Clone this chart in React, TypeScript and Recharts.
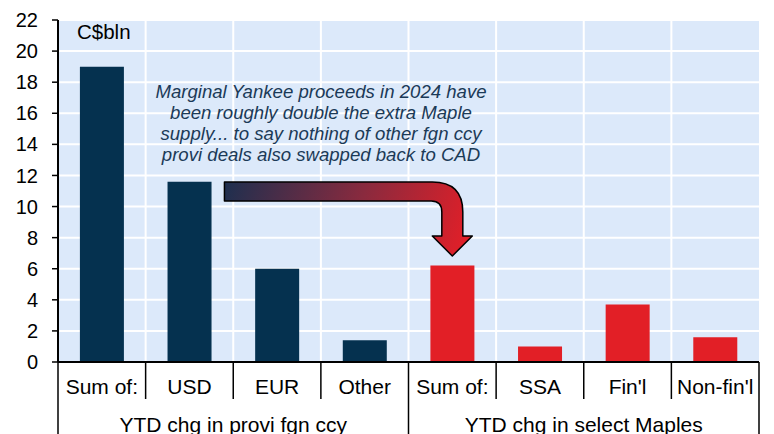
import React from "react";
import {
  BarChart,
  Bar,
  Cell,
  XAxis,
  YAxis,
  CartesianGrid,
  Customized,
} from "recharts";

const categories = ["Sum of:", "USD", "EUR", "Other", "Sum of:", "SSA", "Fin'l", "Non-fin'l"];
const values = [19.0, 11.6, 6.0, 1.4, 6.2, 1.0, 3.7, 1.6];
const groupLabels = ["YTD chg in provi fgn ccy", "YTD chg in select Maples"];
const yTicks = [0, 2, 4, 6, 8, 10, 12, 14, 16, 18, 20, 22];
const noteLines = [
  "Marginal Yankee proceeds in 2024 have",
  "been roughly double the extra Maple",
  "supply... to say nothing of other fgn ccy",
  "provi deals also swapped back to CAD",
];

const NAVY = "#05314f";
const RED = "#e21f26";

// layout
const W = 774;
const H = 434;
const M = { top: 20, right: 15, left: 0, bottom: 0 };
const Y_W = 58;
const X_H = 72;
const plotL = M.left + Y_W;
const plotR = W - M.right;
const catW = (plotR - plotL) / categories.length;

const data = categories.map((c, i) => ({
  id: `c${i}`,
  value: values[i],
  group: i < 4 ? 0 : 1,
}));

function XTick(props: any) {
  const { x, y, index } = props;
  const left = x - catW / 2;
  const right = x + catW / 2;
  const groupEdge = index % 4 === 0;
  return (
    <g>
      <line x1={left} x2={left} y1={y} y2={groupEdge ? H : y + 37} stroke="#000" strokeWidth={1.5} />
      {index === categories.length - 1 && (
        <line x1={right} x2={right} y1={y} y2={H} stroke="#000" strokeWidth={1.5} />
      )}
      <text x={x} y={y + 32} textAnchor="middle" fontSize={21} fill="#000">
        {categories[index]}
      </text>
      {index % 4 === 1 && (
        <text x={right} y={y + 70} textAnchor="middle" fontSize={21} fill="#000">
          {groupLabels[Math.floor(index / 4)]}
        </text>
      )}
    </g>
  );
}

function Annotations() {
  // arrow from the USD bar over to the Maple "Sum of:" bar
  const x0 = plotL + catW * 1.5 + 35;
  const cx = plotL + catW * 4.5;
  const top = 182;
  const bot = 201;
  const half = 10.5;
  const headY = 236;
  const tipY = 256;
  const path = `M${x0},${top} L${cx - 20},${top} Q${cx + half},${top} ${cx + half},${top + 30}
    L${cx + half},${headY} L${cx + 20},${headY} L${cx},${tipY} L${cx - 20},${headY}
    L${cx - half},${headY} L${cx - half},${bot + 11} Q${cx - half},${bot} ${cx - 21},${bot}
    L${x0},${bot} Z`;
  return (
    <g>
      <defs>
        <linearGradient id="arrowGrad" gradientUnits="userSpaceOnUse" x1={x0} y1={top} x2={cx + 10} y2={tipY}>
          <stop offset="0%" stopColor="#1d2f4f" />
          <stop offset="55%" stopColor="#8a2a3e" />
          <stop offset="100%" stopColor="#e11f28" />
        </linearGradient>
      </defs>
      <path d={path} fill="url(#arrowGrad)" stroke="#000" strokeWidth={1.5} strokeLinejoin="round" />
      <text x={77} y={39} fontSize={20.5} fill="#000">
        C$bln
      </text>
      {noteLines.map((t, i) => (
        <text
          key={i}
          x={321}
          y={98 + i * 21}
          textAnchor="middle"
          fontSize={18.6}
          fontStyle="italic"
          fill="#1b3a57"
        >
          {t}
        </text>
      ))}
    </g>
  );
}

export default function App() {
  const vPoints = categories.slice(1).map((_, i) => plotL + catW * (i + 1));
  return (
    <div
      style={{
        position: "absolute",
        left: 0,
        top: 0,
        width: W,
        height: H,
        background: "#fff",
        fontFamily: "'Liberation Sans', Arial, sans-serif",
      }}
    >
      <BarChart width={W} height={H} data={data} margin={M} barCategoryGap="25%">
        <CartesianGrid
          fill="#dce9fa"
          fillOpacity={1}
          stroke="#fff"
          strokeWidth={2}
          verticalPoints={vPoints}
        />
        <XAxis
          dataKey="id"
          height={X_H}
          tickSize={0}
          tickMargin={0}
          tickLine={false}
          axisLine={{ stroke: "#000", strokeWidth: 2 }}
          tick={<XTick />}
          interval={0}
        />
        <YAxis
          width={Y_W}
          domain={[0, 22]}
          ticks={yTicks}
          interval={0}
          tickSize={6}
          tickMargin={14}
          tick={{ fontSize: 20, fill: "#000" }}
          tickLine={{ stroke: "#000", strokeWidth: 1.5 }}
          axisLine={{ stroke: "#000", strokeWidth: 2 }}
        />
        <Bar dataKey="value" isAnimationActive={false}>
          {data.map((d) => (
            <Cell key={d.id} fill={d.group === 0 ? NAVY : RED} />
          ))}
        </Bar>
        <Customized component={<Annotations />} />
      </BarChart>
    </div>
  );
}
